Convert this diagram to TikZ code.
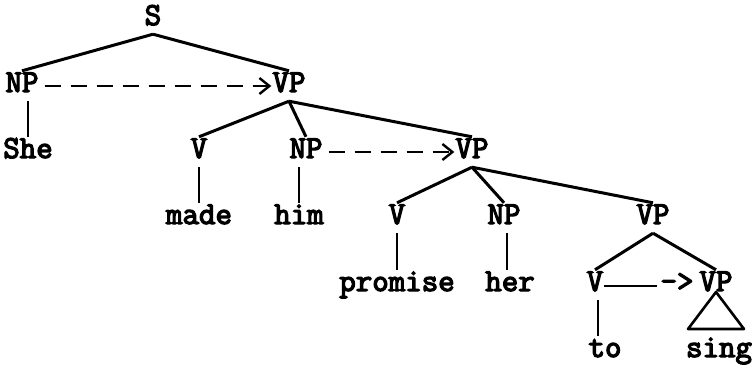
\documentclass[tikz,border=0pt]{standalone}
\usepackage{fontspec}
\newfontfamily\twfont{Latin Modern Mono}[FakeBold=4]
\usetikzlibrary{arrows.meta}
\begin{document}
\begin{tikzpicture}[x=1pt,y=-1pt,
  lab/.style={anchor=base,font=\fontsize{32}{35}\selectfont\twfont,inner xsep=1pt,inner ysep=5pt,text height=16pt,text depth=4pt},
  branch/.style={line width=3pt},
  stem/.style={line width=2pt},
  movearrow/.style={line width=2.6pt,dash pattern=on 16pt off 10pt,shorten <=5pt,-{Straight Barb[length=10pt,width=16pt,line width=2.4pt]}}]
\useasboundingbox (0,0) rectangle (752,364);
% nodes
\node[lab] (S) at (153,25) {S};
\node[lab] (NPa) at (22,92) {NP};
\node[lab] (VPa) at (289,92) {VP};
\node[lab] (She) at (28,158) {She};
\node[lab] (Va) at (199,158) {V};
\node[lab] (NPb) at (306,158) {NP};
\node[lab] (VPb) at (472,158) {VP};
\node[lab] (made) at (199,224) {made};
\node[lab] (him) at (299,224) {him};
\node[lab] (Vb) at (397,224) {V};
\node[lab] (NPc) at (504,224) {NP};
\node[lab] (VPc) at (653,224) {VP};
\node[lab] (promise) at (397,291) {promise};
\node[lab] (her) at (510,291) {her};
\node[lab] (Vc) at (595,291) {V};
\node[lab] (arr) at (677,291) {->};
\node[lab] (VPd) at (716,291) {VP};
\node[lab] (to) at (605,357) {to};
\node[lab] (sing) at (719,357) {sing};
% branches
\draw[branch] (S.south) -- (NPa.north);
\draw[branch] (S.south) -- (VPa.north);
\draw[stem] (NPa.south -| She.north) -- (She.north);
\draw[branch] (VPa.south) -- (Va.north);
\draw[branch] (VPa.south) -- (NPb.north);
\draw[branch] (VPa.south) -- (VPb.north);
\draw[stem] (Va.south) -- (Va.south |- made.north);
\draw[stem] (him.north |- NPb.south) -- (him.north);
\draw[branch] (VPb.south) -- (Vb.north);
\draw[branch] (VPb.south) -- (NPc.north);
\draw[branch] (VPb.south) -- (VPc.north);
\draw[stem] (Vb.south) -- (Vb.south |- promise.north);
\draw[stem] ([xshift=3pt]NPc.south) -- ([xshift=3pt]NPc.south |- her.north);
\draw[branch] (VPc.south) -- (Vc.north);
\draw[branch] (VPc.south) -- (VPd.north);
\draw[stem] ([xshift=3pt]Vc.south) -- ([xshift=3pt]Vc.south |- to.north);
% movement arrows
\draw[movearrow] (NPa.east) -- (VPa.west);
\draw[movearrow] (NPb.east) -- (VPb.west);
\draw[line width=2.4pt] ([yshift=5pt]Vc.base east) -- ([yshift=5pt,xshift=-2pt]arr.base west);
% triangle
\draw[line width=2.6pt,line join=round] ([yshift=-1pt]VPd.base) -- ++(-28,37) -- ++(56,0) -- cycle;
\end{tikzpicture}
\end{document}
